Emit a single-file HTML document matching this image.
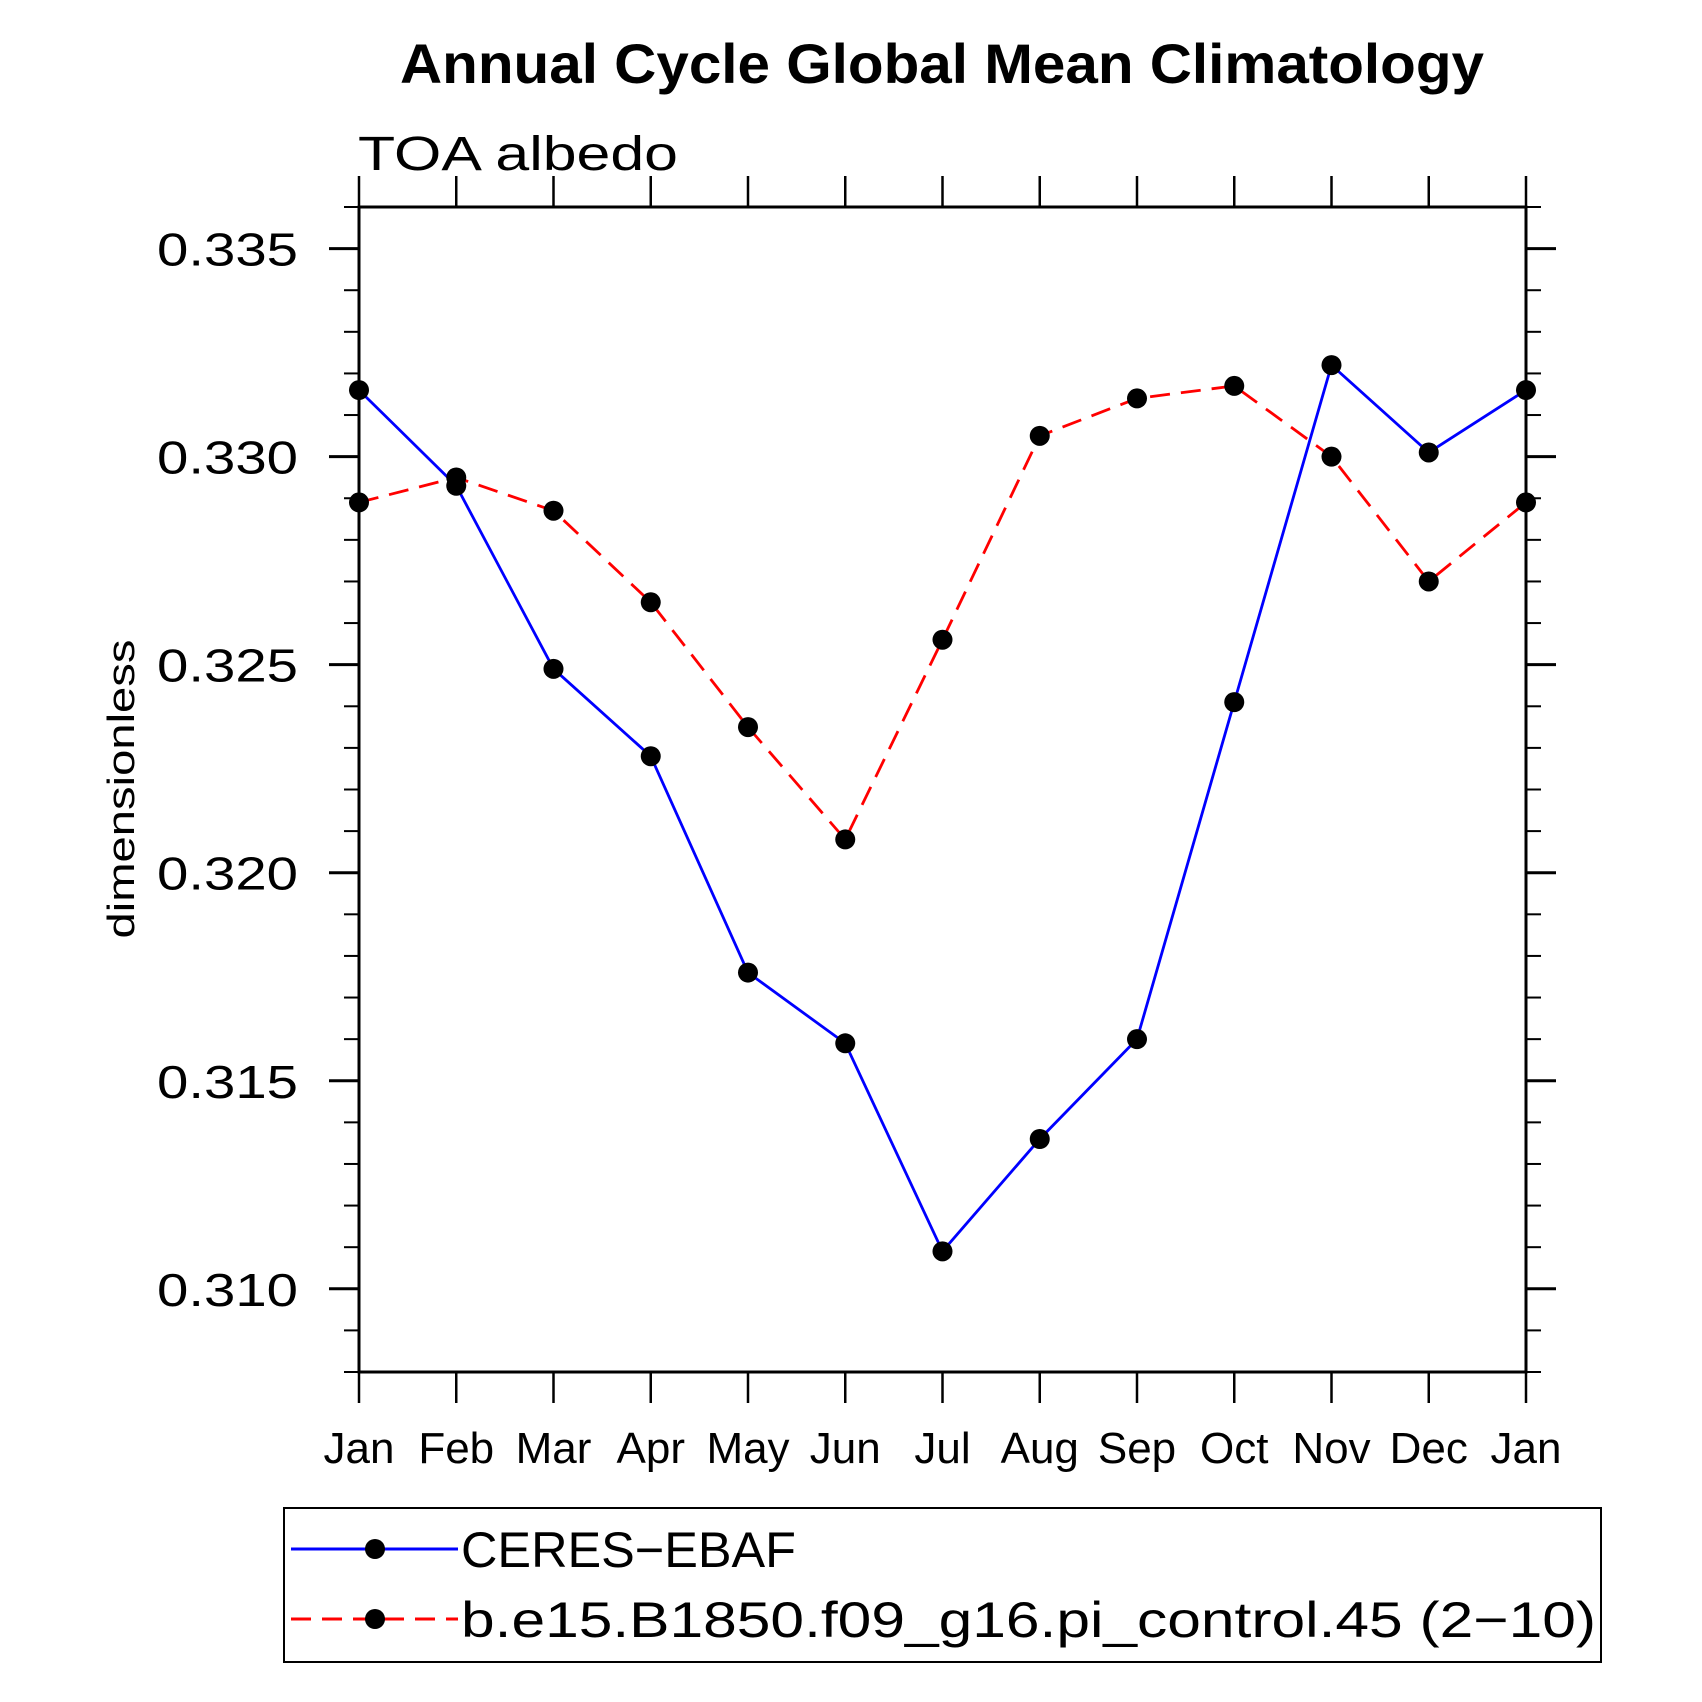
<!DOCTYPE html>
<html><head><meta charset="utf-8"><style>html,body{margin:0;padding:0;background:#fff}svg{display:block}</style></head>
<body>
<svg id="chart" width="1702" height="1702" viewBox="0 0 1702 1702" xmlns="http://www.w3.org/2000/svg" font-family="Liberation Sans, sans-serif">
<text x="942" y="83" font-size="56" font-weight="bold" text-anchor="middle" textLength="1084" lengthAdjust="spacingAndGlyphs">Annual Cycle Global Mean Climatology</text>
<text x="358" y="170" font-size="48" font-weight="300" textLength="320" lengthAdjust="spacingAndGlyphs">TOA albedo</text>
<text transform="translate(134,789) rotate(-90)" font-size="38" text-anchor="middle" textLength="299" lengthAdjust="spacingAndGlyphs">dimensionless</text>
<g id="axes"></g>
<g id="series"></g>
<g id="legend">
<rect x="284" y="1508" width="1317" height="154" fill="none" stroke="#000" stroke-width="2"/>
<g>
<line x1="291" y1="1549" x2="458" y2="1549" stroke="#0000ff" stroke-width="3"/>
<circle cx="375" cy="1549" r="10"/>
<text x="461" y="1567" font-size="50" textLength="335" lengthAdjust="spacingAndGlyphs">CERES−EBAF</text>
</g>
<g>
<line x1="291" y1="1619" x2="458" y2="1619" stroke="#ff0000" stroke-width="3" stroke-dasharray="20,11"/>
<circle cx="375" cy="1619" r="10"/>
<text x="461" y="1637" font-size="50" textLength="1135" lengthAdjust="spacingAndGlyphs">b.e15.B1850.f09_g16.pi_control.45 (2−10)</text>
</g>
</g>
</svg>
<script>
const months = ["Jan","Feb","Mar","Apr","May","Jun","Jul","Aug","Sep","Oct","Nov","Dec","Jan"];
const ceres = [0.3316,0.3293,0.3249,0.3228,0.3176,0.3159,0.3109,0.3136,0.3160,0.3241,0.3322,0.3301,0.3316];
const model = [0.3289,0.3295,0.3287,0.3265,0.3235,0.3208,0.3256,0.3305,0.3314,0.3317,0.3300,0.3270,0.3289];
const yTicks = [0.310,0.315,0.320,0.325,0.330,0.335];
const yTickLabels = ["0.310","0.315","0.320","0.325","0.330","0.335"];
const yMin = 0.308, yMax = 0.336;

const L=359,R=1526,T=207,B=1372;
const NS="http://www.w3.org/2000/svg";
function x(i){return L+(R-L)*i/(months.length-1);}
function y(v){return B-(B-T)*(v-yMin)/(yMax-yMin);}
function mk(tag,attrs,parent){const e=document.createElementNS(NS,tag);for(const k in attrs)e.setAttribute(k,attrs[k]);parent.appendChild(e);return e;}
const axes=document.getElementById('axes');
const frame=mk('rect',{x:L,y:T,width:R-L,height:B-T,fill:'none',stroke:'#000','stroke-width':3},axes);


for(let k=Math.round(yMin*1000);k<=Math.round(yMax*1000);k++){
  const v=k/1000, yy=y(v);
  const major = k%5===0;
  const len = major?30:15;
  const tl=mk('line',{x1:L-len,y1:yy,x2:L,y2:yy,stroke:'#000','stroke-width':major?3:2},axes);
  
  
  const tr=mk('line',{x1:R,y1:yy,x2:R+len,y2:yy,stroke:'#000','stroke-width':major?3:2},axes);
  
  
}
yTicks.forEach((v,i)=>{
  const t=mk('text',{x:298,y:y(v)+17,'font-size':46,'text-anchor':'end','font-weight':'300',textLength:141,lengthAdjust:'spacingAndGlyphs'},axes);
  t.textContent=yTickLabels[i];
  
  
});
months.forEach((m,i)=>{
  const xx=x(i);
  const a=mk('line',{x1:xx,y1:B,x2:xx,y2:B+31,stroke:'#000','stroke-width':2.5},axes);
  
  
  const b=mk('line',{x1:xx,y1:T-31,x2:xx,y2:T,stroke:'#000','stroke-width':2.5},axes);
  
  
  const t=mk('text',{x:xx,y:1463,'font-size':44,'text-anchor':'middle','font-weight':'300'},axes);
  t.textContent=m;
  
  
});
const series=document.getElementById('series');
function draw(vals,color,dash,name){
  const pts=vals.map((v,i)=>x(i)+','+y(v)).join(' ');
  const pl=mk('polyline',{points:pts,fill:'none',stroke:color,'stroke-width':2.8},series);
  if(dash)pl.setAttribute('stroke-dasharray',dash);
  
  
}
function dots(vals,name){
  vals.forEach((v,i)=>{
    const c=mk('circle',{cx:x(i),cy:y(v),r:10,fill:'#000'},series);
    
    
  });
}
draw(ceres,'#0000ff',null,'ceres');
draw(model,'#ff0000','20,11','model');
dots(ceres,'ceres');
dots(model,'model');
</script>
</body></html>
